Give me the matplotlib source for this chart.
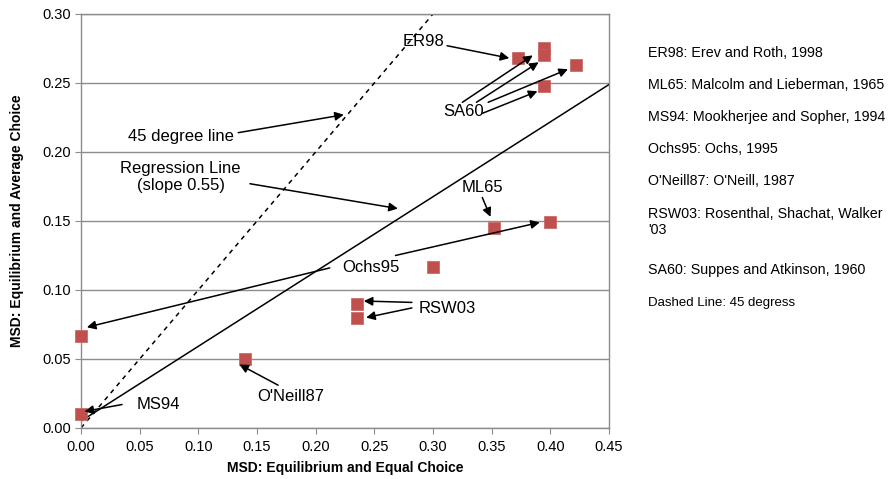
import matplotlib
matplotlib.use("Agg")
import matplotlib.pyplot as plt

plt.rcParams['font.family'] = ['Liberation Sans', 'DejaVu Sans']

# Data
x_equal = [0.000, 0.000, 0.140, 0.235, 0.235, 0.300, 0.352, 0.400, 0.372, 0.395, 0.395, 0.395, 0.422]
y_avg   = [0.010, 0.067, 0.050, 0.090, 0.080, 0.117, 0.145, 0.149, 0.268, 0.275, 0.270, 0.248, 0.263]

reg_intercept = 0.005
reg_slope = 0.542

x_ticks = [0.00, 0.05, 0.10, 0.15, 0.20, 0.25, 0.30, 0.35, 0.40, 0.45]
y_ticks = [0.00, 0.05, 0.10, 0.15, 0.20, 0.25, 0.30]

legend_lines = [
    "ER98: Erev and Roth, 1998",
    "ML65: Malcolm and Lieberman, 1965",
    "MS94: Mookherjee and Sopher, 1994",
    "Ochs95: Ochs, 1995",
    "O'Neill87: O'Neill, 1987",
    "RSW03: Rosenthal, Shachat, Walker\n'03",
    "SA60: Suppes and Atkinson, 1960",
]
legend_note = "Dashed Line: 45 degress"

# (label, text position, alignment, [(tail, head), ...])
annotations = [
    ("ER98", (0.274, 0.280), 'left', [((0.312, 0.277), (0.365, 0.268))]),
    ("SA60", (0.309, 0.229), 'left', [((0.325, 0.236), (0.385, 0.270)),
                                      ((0.337, 0.236), (0.390, 0.265)),
                                      ((0.347, 0.236), (0.415, 0.260)),
                                      ((0.342, 0.228), (0.389, 0.244))]),
    ("45 degree line", (0.085, 0.211), 'center', [((0.134, 0.214), (0.224, 0.227))]),
    ("Regression Line\n(slope 0.55)", (0.085, 0.182), 'center', [((0.144, 0.177), (0.270, 0.159))]),
    ("ML65", (0.324, 0.174), 'left', [((0.342, 0.167), (0.349, 0.153))]),
    ("Ochs95", (0.223, 0.116), 'left', [((0.212, 0.116), (0.005, 0.073)),
                                        ((0.268, 0.125), (0.391, 0.149))]),
    ("RSW03", (0.288, 0.0865), 'left', [((0.282, 0.091), (0.241, 0.092)),
                                        ((0.282, 0.087), (0.243, 0.080))]),
    ("O'Neill87", (0.150, 0.0225), 'left', [((0.168, 0.031), (0.135, 0.046))]),
    ("MS94", (0.047, 0.0167), 'left', [((0.035, 0.017), (0.003, 0.012))]),
]

fig = plt.figure(figsize=(8.93, 4.79), dpi=100)
ax = fig.add_axes([0.0907, 0.1065, 0.5913, 0.8643])

ax.set_xlim(0, 0.45)
ax.set_ylim(0, 0.30)
ax.set_xticks(x_ticks)
ax.set_yticks(y_ticks)
ax.set_xticklabels([f"{v:.2f}" for v in x_ticks], fontsize=10.5)
ax.set_yticklabels([f"{v:.2f}" for v in y_ticks], fontsize=10.5)
ax.yaxis.grid(True, color='#8c8c8c', lw=1)
ax.set_axisbelow(True)
for s in ax.spines.values():
    s.set_color('#8c8c8c')
    s.set_linewidth(1)
ax.tick_params(axis='x', length=4, pad=5, color='#8c8c8c', direction='out')
ax.tick_params(axis='y', length=4, pad=3, color='#8c8c8c', direction='out')

# 45 degree line
ax.plot([0, 0.30], [0, 0.30], ls=(0, (3, 3)), color='black', lw=1.1, zorder=2)
# regression line
ax.plot([0, 0.45], [reg_intercept, reg_intercept + reg_slope * 0.45], color='black', lw=1.1, zorder=2)

ax.scatter(x_equal, y_avg, marker='s', s=85, color='#C0504D', edgecolor='#C86060', lw=0.5,
           zorder=4, clip_on=False)

for label, tpos, ha, arrows in annotations:
    ax.text(tpos[0], tpos[1], label, fontsize=12, ha=ha, va='center', zorder=5, linespacing=1.2)
    for tail, head in arrows:
        ax.annotate("", xy=head, xytext=tail,
                    arrowprops=dict(arrowstyle='-|>', color='black', lw=1.1,
                                    mutation_scale=13, shrinkA=0, shrinkB=0),
                    zorder=5)

ax.set_xlabel("MSD: Equilibrium and Equal Choice", fontsize=10, fontweight='bold', labelpad=5)
ax.set_ylabel("MSD: Equilibrium and Average Choice", fontsize=10, fontweight='bold', labelpad=13)

# right side text
ys = [53, 85, 117, 149, 181, 222, 270]
for yy, t in zip(ys, legend_lines):
    fig.text(648 / 893, 1 - yy / 479, t, fontsize=10.3, va='center', ha='left', linespacing=1.25)
fig.text(648 / 893, 1 - 303 / 479, legend_note, fontsize=9.5, va='center', ha='left')

fig.savefig("out.png", dpi=100)
